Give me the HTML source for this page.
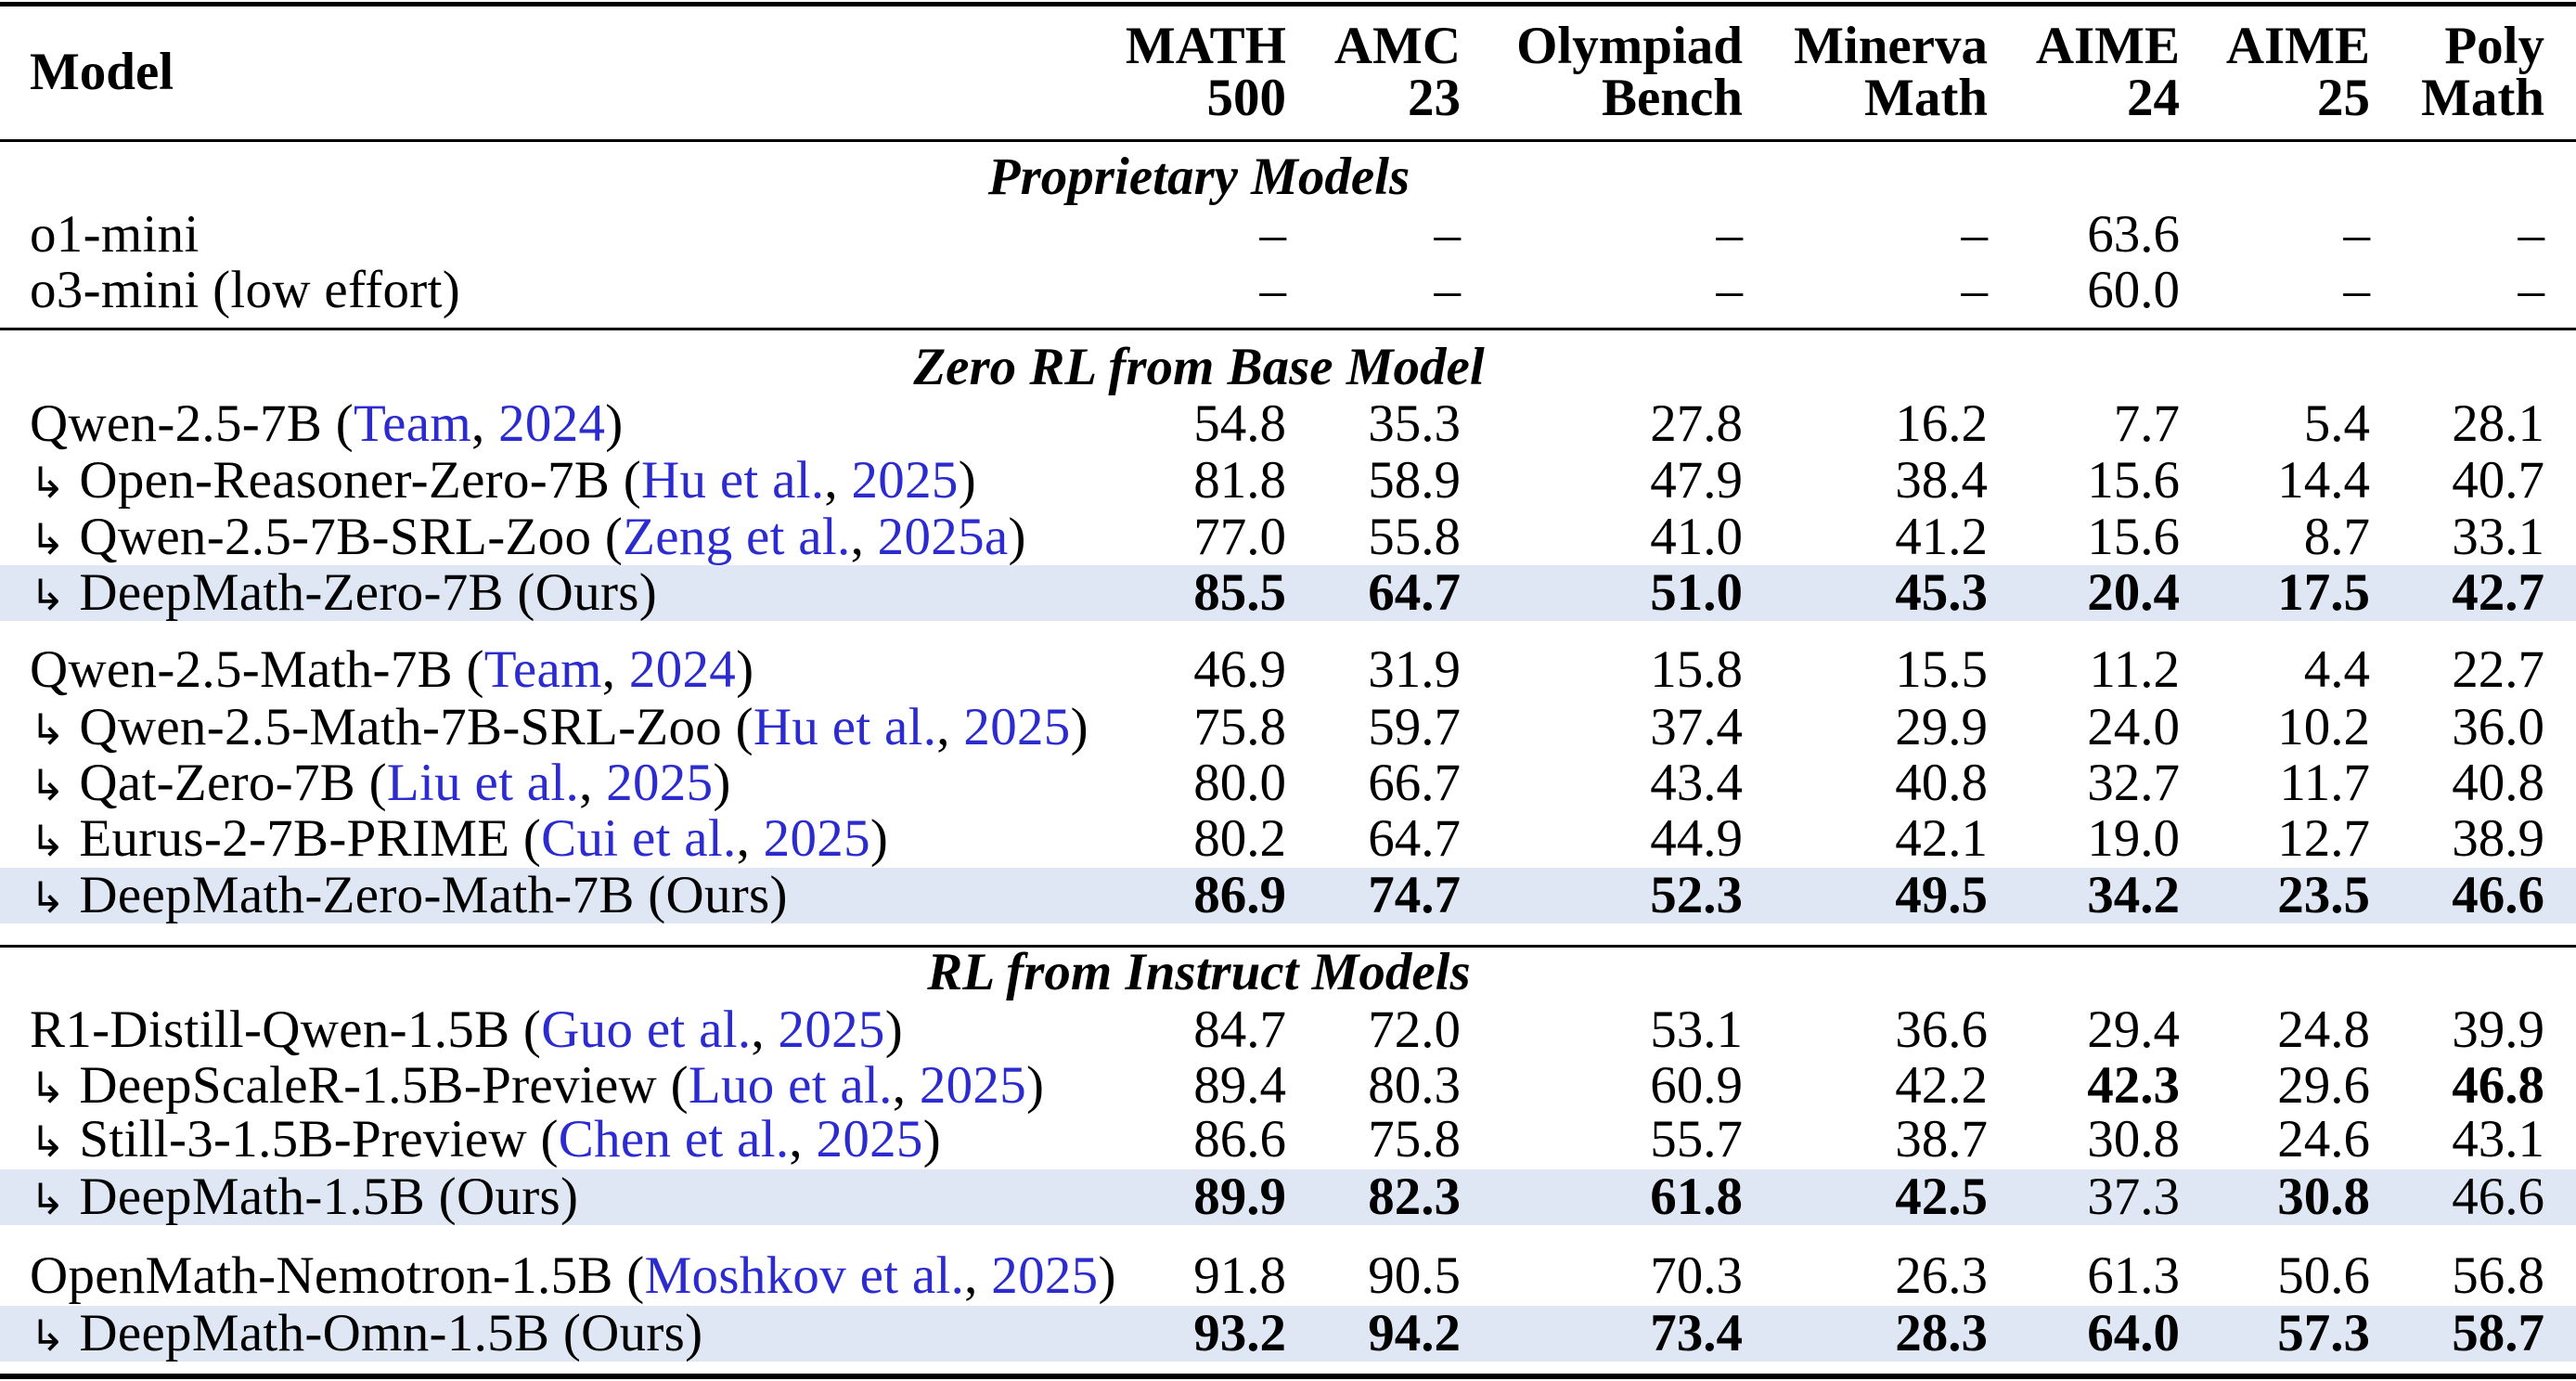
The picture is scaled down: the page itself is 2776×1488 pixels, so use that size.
<!DOCTYPE html>
<html><head><meta charset="utf-8"><style>
body{margin:0;background:#fff;}
#p{position:relative;width:2776px;height:1488px;overflow:hidden;font-family:"Liberation Serif","DejaVu Serif",serif;font-size:57px;color:#000;}
.r{position:absolute;left:0;width:2776px;height:60px;line-height:60px;}
.r span{position:absolute;white-space:nowrap;}
.m{left:32px;letter-spacing:0.3px;}
.c1{right:1390px}.c2{right:1202px}.c3{right:898px}.c4{right:634px}.c5{right:427px}.c6{right:222px}.c7{right:34px}
.hl{background:#dfe7f4;}
.b{font-weight:bold;}
.g{position:absolute;left:0;width:2776px;text-align:center;font-weight:bold;font-style:italic;height:60px;line-height:60px;}
.g span{position:relative;left:-96px;}
.l{color:#2b2bcf;}
.rule{position:absolute;left:0;width:2776px;background:#000;}
.ar{font-family:"DejaVu Sans",sans-serif;font-size:46px;}
.r span span{position:static;}
</style></head><body><div id="p">
<div class="rule" style="top:2px;height:5px"></div>
<div class="rule" style="top:150px;height:3px"></div>
<div class="rule" style="top:353px;height:3px"></div>
<div class="rule" style="top:1018px;height:3px"></div>
<div class="rule" style="top:1480px;height:6px"></div>

<div class="r b" style="top:48px"><span class="m" style="letter-spacing:0">Model</span></div>
<div class="r b" style="top:20px"><span class="c1">MATH</span><span class="c2">AMC</span><span class="c3">Olympiad</span><span class="c4">Minerva</span><span class="c5">AIME</span><span class="c6">AIME</span><span class="c7">Poly</span></div>
<div class="r b" style="top:76px"><span class="c1">500</span><span class="c2">23</span><span class="c3">Bench</span><span class="c4">Math</span><span class="c5">24</span><span class="c6">25</span><span class="c7">Math</span></div>

<div class="g" style="top:161px"><span>Proprietary Models</span></div>
<div class="r" style="top:223px"><span class="m">o1-mini</span><span class="c1">–</span><span class="c2">–</span><span class="c3">–</span><span class="c4">–</span><span class="c5">63.6</span><span class="c6">–</span><span class="c7">–</span></div>
<div class="r" style="top:283px"><span class="m">o3-mini (low effort)</span><span class="c1">–</span><span class="c2">–</span><span class="c3">–</span><span class="c4">–</span><span class="c5">60.0</span><span class="c6">–</span><span class="c7">–</span></div>

<div class="g" style="top:366px"><span>Zero RL from Base Model</span></div>
<div class="r" style="top:427px"><span class="m">Qwen-2.5-7B (<span class="l">Team</span>, <span class="l">2024</span>)</span><span class="c1">54.8</span><span class="c2">35.3</span><span class="c3">27.8</span><span class="c4">16.2</span><span class="c5">7.7</span><span class="c6">5.4</span><span class="c7">28.1</span></div>
<div class="r" style="top:488px"><span class="m"><span class="ar">↳</span> Open-Reasoner-Zero-7B (<span class="l">Hu et al.</span>, <span class="l">2025</span>)</span><span class="c1">81.8</span><span class="c2">58.9</span><span class="c3">47.9</span><span class="c4">38.4</span><span class="c5">15.6</span><span class="c6">14.4</span><span class="c7">40.7</span></div>
<div class="r" style="top:549px"><span class="m"><span class="ar">↳</span> Qwen-2.5-7B-SRL-Zoo (<span class="l">Zeng et al.</span>, <span class="l">2025a</span>)</span><span class="c1">77.0</span><span class="c2">55.8</span><span class="c3">41.0</span><span class="c4">41.2</span><span class="c5">15.6</span><span class="c6">8.7</span><span class="c7">33.1</span></div>
<div class="r hl" style="top:609px"><span class="m"><span class="ar">↳</span> DeepMath-Zero-7B (Ours)</span><span class="c1 b">85.5</span><span class="c2 b">64.7</span><span class="c3 b">51.0</span><span class="c4 b">45.3</span><span class="c5 b">20.4</span><span class="c6 b">17.5</span><span class="c7 b">42.7</span></div>

<div class="r" style="top:692px"><span class="m">Qwen-2.5-Math-7B (<span class="l">Team</span>, <span class="l">2024</span>)</span><span class="c1">46.9</span><span class="c2">31.9</span><span class="c3">15.8</span><span class="c4">15.5</span><span class="c5">11.2</span><span class="c6">4.4</span><span class="c7">22.7</span></div>
<div class="r" style="top:754px"><span class="m"><span class="ar">↳</span> Qwen-2.5-Math-7B-SRL-Zoo (<span class="l">Hu et al.</span>, <span class="l">2025</span>)</span><span class="c1">75.8</span><span class="c2">59.7</span><span class="c3">37.4</span><span class="c4">29.9</span><span class="c5">24.0</span><span class="c6">10.2</span><span class="c7">36.0</span></div>
<div class="r" style="top:814px"><span class="m"><span class="ar">↳</span> Qat-Zero-7B (<span class="l">Liu et al.</span>, <span class="l">2025</span>)</span><span class="c1">80.0</span><span class="c2">66.7</span><span class="c3">43.4</span><span class="c4">40.8</span><span class="c5">32.7</span><span class="c6">11.7</span><span class="c7">40.8</span></div>
<div class="r" style="top:874px"><span class="m"><span class="ar">↳</span> Eurus-2-7B-PRIME (<span class="l">Cui et al.</span>, <span class="l">2025</span>)</span><span class="c1">80.2</span><span class="c2">64.7</span><span class="c3">44.9</span><span class="c4">42.1</span><span class="c5">19.0</span><span class="c6">12.7</span><span class="c7">38.9</span></div>
<div class="r hl" style="top:935px"><span class="m"><span class="ar">↳</span> DeepMath-Zero-Math-7B (Ours)</span><span class="c1 b">86.9</span><span class="c2 b">74.7</span><span class="c3 b">52.3</span><span class="c4 b">49.5</span><span class="c5 b">34.2</span><span class="c6 b">23.5</span><span class="c7 b">46.6</span></div>

<div class="g" style="top:1018px"><span>RL from Instruct Models</span></div>
<div class="r" style="top:1080px"><span class="m">R1-Distill-Qwen-1.5B (<span class="l">Guo et al.</span>, <span class="l">2025</span>)</span><span class="c1">84.7</span><span class="c2">72.0</span><span class="c3">53.1</span><span class="c4">36.6</span><span class="c5">29.4</span><span class="c6">24.8</span><span class="c7">39.9</span></div>
<div class="r" style="top:1140px"><span class="m"><span class="ar">↳</span> DeepScaleR-1.5B-Preview (<span class="l">Luo et al.</span>, <span class="l">2025</span>)</span><span class="c1">89.4</span><span class="c2">80.3</span><span class="c3">60.9</span><span class="c4">42.2</span><span class="c5 b">42.3</span><span class="c6">29.6</span><span class="c7 b">46.8</span></div>
<div class="r" style="top:1198px"><span class="m"><span class="ar">↳</span> Still-3-1.5B-Preview (<span class="l">Chen et al.</span>, <span class="l">2025</span>)</span><span class="c1">86.6</span><span class="c2">75.8</span><span class="c3">55.7</span><span class="c4">38.7</span><span class="c5">30.8</span><span class="c6">24.6</span><span class="c7">43.1</span></div>
<div class="r hl" style="top:1260px"><span class="m"><span class="ar">↳</span> DeepMath-1.5B (Ours)</span><span class="c1 b">89.9</span><span class="c2 b">82.3</span><span class="c3 b">61.8</span><span class="c4 b">42.5</span><span class="c5">37.3</span><span class="c6 b">30.8</span><span class="c7">46.6</span></div>

<div class="r" style="top:1345px"><span class="m">OpenMath-Nemotron-1.5B (<span class="l">Moshkov et al.</span>, <span class="l">2025</span>)</span><span class="c1">91.8</span><span class="c2">90.5</span><span class="c3">70.3</span><span class="c4">26.3</span><span class="c5">61.3</span><span class="c6">50.6</span><span class="c7">56.8</span></div>
<div class="r hl" style="top:1407px"><span class="m"><span class="ar">↳</span> DeepMath-Omn-1.5B (Ours)</span><span class="c1 b">93.2</span><span class="c2 b">94.2</span><span class="c3 b">73.4</span><span class="c4 b">28.3</span><span class="c5 b">64.0</span><span class="c6 b">57.3</span><span class="c7 b">58.7</span></div>
</div></body></html>
